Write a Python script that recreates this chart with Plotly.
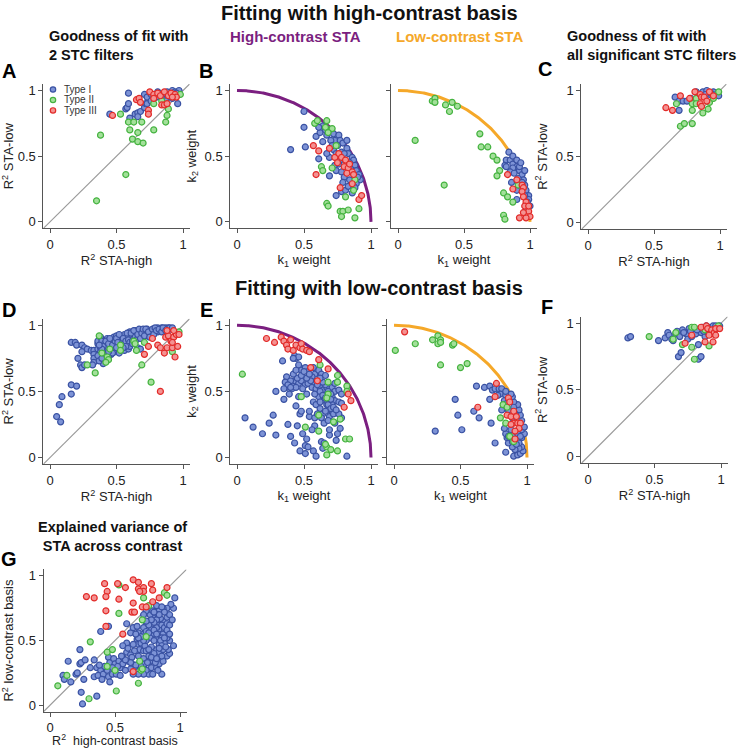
import numpy as np
import plotly.graph_objects as go

OFF = 0
W, H = 739, 748

# ---------------- DATA ----------------
# Panel A: Goodness of fit with 2 STC filters (x = R2 STA-high, y = R2 STA-low)
A_type1 = [(0.59,0.98),(0.45,0.82),(0.57,0.86),(0.58,0.87),(0.59,0.90),(0.60,0.79),(0.64,0.82),(0.66,0.83),
           (0.68,0.84),(0.66,0.80),(0.71,0.87),(0.72,0.90),(0.71,0.97),(0.73,0.95),(0.76,0.97),(0.78,0.94),
           (0.81,0.99),(0.84,0.96),(0.88,0.99),(0.92,1.0),(0.94,0.99),(0.97,1.0),(0.96,0.90),(0.89,0.95),
           (0.92,0.94),(0.87,0.92),(0.73,0.90),(0.76,0.92),(0.80,0.95),(0.86,0.98),(0.90,0.97),(0.95,0.98)]
A_type2 = [(0.38,0.66),(0.35,0.16),(0.57,0.36),(0.53,0.82),(0.59,0.76),(0.63,0.76),(0.69,0.76),(0.60,0.70),
           (0.66,0.68),(0.62,0.63),(0.66,0.61),(0.70,0.60),(0.78,0.70),(0.87,0.76),(0.88,0.81),(0.89,0.86),
           (0.78,0.90),(0.98,0.97),(0.84,0.92)]
A_type3 = [(0.47,0.81),(0.65,0.93),(0.67,0.94),(0.68,0.91),(0.74,0.85),(0.74,0.82),(0.75,0.99),(0.78,0.97),
           (0.81,0.98),(0.83,0.96),(0.86,0.99),(0.84,0.89),(0.86,0.89),(0.89,0.96),(0.91,0.98),(0.94,0.97),
           (0.95,0.95),(0.92,0.95),(0.88,0.90),(0.78,0.94)]

# Panel B: high-contrast basis weights (k1, k2), left = high-contrast STA, right = low-contrast STA
B1_type1 = [(0.50,0.84),(0.50,0.72),(0.40,0.55),(0.51,0.57),(0.61,0.48),(0.59,0.65),(0.62,0.68),(0.64,0.73),
            (0.69,0.35),(0.74,0.20),(0.78,0.23),(0.64,0.61),(0.67,0.66),(0.69,0.70),(0.72,0.67),(0.73,0.62),
            (0.76,0.66),(0.77,0.62),(0.79,0.60),(0.82,0.56),(0.83,0.52),(0.86,0.49),(0.87,0.47),(0.88,0.43),
            (0.89,0.39),(0.91,0.36),(0.92,0.32),(0.89,0.29),(0.87,0.27),(0.84,0.32),(0.81,0.24),(0.73,0.43),
            (0.69,0.49),(0.67,0.52),(0.72,0.55),(0.74,0.52),(0.77,0.47),(0.74,0.39),(0.78,0.38),(0.83,0.27),
            (0.88,0.26),(0.86,0.22),(0.82,0.62),(0.78,0.53),(0.70,0.62),(0.75,0.58),(0.80,0.52),(0.84,0.45),
            (0.85,0.40),(0.80,0.34),(0.76,0.44),(0.71,0.58),(0.66,0.70),(0.61,0.72),(0.90,0.34),(0.79,0.30)]
B1_type2 = [(0.58,0.75),(0.60,0.77),(0.66,0.72),(0.67,0.77),(0.71,0.71),(0.68,0.68),(0.74,0.58),(0.63,0.42),
            (0.64,0.39),(0.71,0.41),(0.67,0.14),(0.68,0.12),(0.77,0.08),(0.79,0.08),(0.78,0.04),(0.83,0.09),
            (0.88,0.03),(0.91,0.10),(0.81,0.19),(0.87,0.24),(0.88,0.32)]
B1_type3 = [(0.57,0.58),(0.61,0.54),(0.59,0.36),(0.69,0.56),(0.73,0.49),(0.76,0.52),(0.78,0.49),(0.81,0.47),
            (0.80,0.42),(0.83,0.41),(0.86,0.38),(0.82,0.37),(0.87,0.36),(0.86,0.29),(0.77,0.26),(0.91,0.17),
            (0.93,0.20),(0.75,0.45),(0.84,0.44)]
B2_type1 = [(0.84,0.53),(0.82,0.47),(0.81,0.43),(0.85,0.47),(0.87,0.44),(0.90,0.42),(0.92,0.39),(0.94,0.36),
            (0.95,0.32),(0.96,0.28),(0.97,0.24),(0.99,0.20),(0.99,0.17),(1.0,0.12),(0.97,0.09),(0.90,0.17),
            (0.87,0.41),(0.85,0.38),(0.82,0.42),(0.87,0.50),(0.90,0.47),(0.92,0.42),(0.90,0.24),(0.86,0.30),
            (0.96,0.39),(0.93,0.45),(0.88,0.37),(0.91,0.33),(0.94,0.30),(0.98,0.15),(0.96,0.20)]
B2_type2 = [(0.26,0.92),(0.28,0.94),(0.28,0.91),(0.36,0.89),(0.39,0.84),(0.41,0.91),(0.45,0.88),(0.13,0.62),
            (0.35,0.28),(0.62,0.67),(0.63,0.57),(0.68,0.57),(0.72,0.50),(0.75,0.47),(0.77,0.39),(0.75,0.35),
            (0.80,0.22),(0.83,0.19),(0.87,0.15),(0.80,0.05),(0.81,0.02),(0.91,0.28)]
B2_type3 = [(0.83,0.36),(0.90,0.32),(0.87,0.25),(0.94,0.28),(0.95,0.26),(0.94,0.23),(0.95,0.19),(0.97,0.15),
            (0.96,0.12),(0.99,0.08),(1.0,0.04),(0.97,0.03),(0.92,0.03),(0.95,0.07),(0.99,0.12)]

# Panel C: Goodness of fit with all significant STC filters
C_type1 = [(0.66,0.95),(0.69,0.92),(0.69,0.85),(0.72,0.92),(0.75,0.92),(0.78,0.94),(0.82,0.99),(0.87,0.99),
           (0.90,1.0),(0.92,0.97),(0.95,0.99),(0.97,0.97),(0.99,0.96),(0.84,0.96),(0.89,0.97),(0.93,0.98)]
C_type2 = [(0.67,0.90),(0.70,0.73),(0.73,0.75),(0.79,0.75),(0.79,0.85),(0.79,0.90),(0.82,0.94),(0.87,0.83),
           (0.91,0.86),(0.92,0.91),(0.95,0.94),(0.99,0.99),(0.82,0.90)]
C_type3 = [(0.59,0.87),(0.64,0.85),(0.70,0.96),(0.77,0.94),(0.81,0.99),(0.85,0.97),(0.86,0.95),(0.88,0.95),
           (0.85,0.90),(0.86,0.88),(0.92,0.99),(0.95,0.96),(0.90,0.92)]

# Panel D: low-contrast basis, goodness of fit with 2 STC filters
D_type1 = [(0.05,0.31),(0.08,0.27),(0.07,0.40),(0.09,0.46),(0.16,0.48),(0.16,0.55),(0.20,0.54),
           (0.16,0.87),(0.19,0.87),(0.20,0.85),(0.21,0.75),(0.23,0.70),(0.24,0.68),(0.26,0.70),(0.24,0.85),
           (0.26,0.83),(0.24,0.80),(0.28,0.82),(0.31,0.81),(0.33,0.81),(0.33,0.78),(0.33,0.75),(0.33,0.72),
           (0.32,0.70),(0.36,0.86),(0.36,0.88),(0.38,0.91),(0.40,0.71),(0.42,0.75),(0.43,0.78),(0.44,0.83),
           (0.46,0.88),(0.47,0.81),(0.48,0.91),(0.50,0.92),(0.49,0.86),(0.52,0.90),(0.54,0.88),(0.56,0.86),
           (0.57,0.91),(0.58,0.85),(0.60,0.95),(0.62,0.92),(0.64,0.96),(0.66,0.83),(0.68,0.82),(0.67,0.93),
           (0.69,0.96),(0.72,0.93),(0.73,0.97),(0.76,0.96),(0.78,0.97),(0.81,0.98),(0.83,0.96),(0.84,0.98),
           (0.87,0.98),(0.89,0.98),(0.91,0.97),(0.39,0.88),(0.41,0.86),(0.43,0.90),(0.46,0.86),(0.48,0.87),
           (0.51,0.85),(0.53,0.91),(0.56,0.93),(0.58,0.92),(0.61,0.90),(0.63,0.93),(0.66,0.95),(0.68,0.92),
           (0.71,0.95),(0.73,0.92),(0.76,0.93),(0.78,0.95),(0.81,0.95),(0.83,0.97),(0.86,0.96),(0.36,0.82),
           (0.38,0.83),(0.41,0.81),(0.43,0.83),(0.46,0.81),(0.48,0.82),(0.53,0.82),(0.56,0.81),(0.59,0.82),
           (0.38,0.80),(0.36,0.77),(0.41,0.77),(0.46,0.78),(0.49,0.80),(0.37,0.73),(0.39,0.75),(0.44,0.76),
           (0.40,0.84),(0.42,0.88),(0.44,0.86),(0.45,0.90),(0.47,0.85),(0.49,0.88),(0.50,0.90),(0.51,0.87),
           (0.52,0.93),(0.54,0.86),(0.55,0.90),(0.57,0.88),(0.58,0.94),(0.59,0.89),(0.60,0.87),(0.61,0.94),
           (0.62,0.88),(0.63,0.96),(0.64,0.91),(0.65,0.89),(0.66,0.93),(0.67,0.97),(0.68,0.90),(0.69,0.94),
           (0.70,0.97),(0.71,0.92),(0.72,0.97),(0.74,0.95),(0.75,0.91),(0.77,0.97),(0.78,0.93),(0.79,0.98),
           (0.80,0.96),(0.82,0.97),(0.84,0.95),(0.85,0.98),(0.87,0.96),(0.88,0.97),(0.90,0.98),(0.92,0.98),
           (0.60,0.84),(0.62,0.86),(0.57,0.84),(0.55,0.83),(0.52,0.79),(0.50,0.83),(0.47,0.79),(0.44,0.80),
           (0.39,0.82),(0.37,0.85)]
D_type2 = [(0.37,0.92),(0.28,0.70),(0.34,0.64),(0.39,0.79),(0.43,0.76),(0.44,0.74),(0.42,0.72),(0.53,0.85),
           (0.53,0.81),(0.63,0.88),(0.64,0.86),(0.65,0.81),(0.71,0.87),(0.69,0.70),(0.76,0.57),(0.92,0.80),
           (0.97,0.95),(0.45,0.82)]
D_type3 = [(0.77,0.90),(0.74,0.84),(0.71,0.78),(0.81,0.85),(0.83,0.83),(0.86,0.79),(0.88,0.83),(0.92,0.83),
           (0.94,0.76),(0.96,0.84),(0.83,0.50),(0.87,0.91),(0.89,0.92),(0.91,0.88),(0.93,0.91),(0.95,0.93),
           (0.97,0.93),(0.88,0.96),(0.93,0.96),(0.92,0.87)]

# Panel E: low-contrast basis weights (k1, k2)
E1_type1 = [(0.06,0.30),(0.12,0.23),(0.19,0.18),(0.24,0.26),(0.27,0.32),(0.29,0.17),(0.29,0.50),(0.34,0.73),
            (0.35,0.44),(0.38,0.25),(0.40,0.16),(0.43,0.11),(0.44,0.39),(0.45,0.24),(0.47,0.33),(0.47,0.05),
            (0.48,0.35),(0.51,0.09),(0.51,0.03),(0.52,0.14),(0.54,0.31),(0.57,0.05),(0.58,0.24),(0.59,0.01),
            (0.63,0.12),(0.65,0.11),(0.69,0.17),(0.74,0.13),(0.75,0.18),(0.82,0.01),
            (0.43,0.77),(0.44,0.75),(0.46,0.76),(0.42,0.75),(0.47,0.68),(0.48,0.66),(0.51,0.68),(0.53,0.65),
            (0.57,0.68),(0.58,0.63),(0.61,0.66),(0.63,0.63),(0.66,0.62),(0.37,0.61),(0.36,0.57),(0.37,0.53),
            (0.41,0.56),(0.43,0.58),(0.46,0.56),(0.48,0.58),(0.51,0.55),(0.53,0.56),(0.56,0.53),(0.41,0.52),
            (0.44,0.53),(0.56,0.61),(0.58,0.57),(0.59,0.52),(0.62,0.53),(0.64,0.51),(0.67,0.53),(0.71,0.53),
            (0.73,0.50),(0.76,0.51),(0.78,0.48),(0.71,0.46),(0.73,0.43),(0.76,0.42),(0.78,0.41),(0.71,0.40),
            (0.68,0.36),(0.69,0.31),(0.72,0.33),(0.67,0.40),(0.63,0.43),(0.61,0.46),(0.58,0.48),(0.57,0.42),
            (0.59,0.40),(0.62,0.37),(0.64,0.33),(0.63,0.30),(0.65,0.26),(0.58,0.30),(0.54,0.35),(0.56,0.21),
            (0.49,0.18),(0.53,0.08),(0.64,0.07),(0.69,0.21),(0.73,0.26),(0.77,0.22),(0.78,0.30),(0.76,0.33),
            (0.73,0.56),(0.52,0.48),(0.49,0.52),(0.39,0.48),(0.46,0.46),(0.60,0.33),
            (0.62,0.50),(0.64,0.47),(0.66,0.45),(0.68,0.50),(0.70,0.48),(0.66,0.55),(0.64,0.57),(0.60,0.55),
            (0.62,0.60),(0.68,0.40),(0.70,0.37),(0.66,0.35),(0.68,0.28),(0.72,0.38),(0.74,0.36),(0.70,0.44),
            (0.62,0.42),(0.55,0.58),(0.52,0.60),(0.45,0.60),(0.40,0.58),(0.38,0.55),(0.42,0.63),(0.48,0.62),
            (0.50,0.65),(0.54,0.63),(0.46,0.70),(0.44,0.66),(0.40,0.53),(0.35,0.52)]
E1_type2 = [(0.04,0.63),(0.48,0.46),(0.62,0.70),(0.75,0.62),(0.68,0.57),(0.75,0.57),(0.68,0.48),(0.67,0.45),
            (0.82,0.54),(0.82,0.50),(0.61,0.32),(0.51,0.23),(0.61,0.20),(0.72,0.27),(0.77,0.29),(0.81,0.14),
            (0.84,0.14),(0.67,0.08),(0.70,0.06),(0.67,0.02),(0.75,0.05),(0.66,0.10)]
E1_type3 = [(0.22,0.90),(0.28,0.87),(0.33,0.91),(0.35,0.88),(0.37,0.85),(0.38,0.82),(0.40,0.89),(0.42,0.81),
            (0.44,0.85),(0.47,0.83),(0.48,0.86),(0.49,0.82),(0.52,0.81),(0.54,0.80),(0.61,0.74),(0.55,0.68),
            (0.68,0.67),(0.60,0.58),(0.83,0.48),(0.85,0.43),(0.80,0.38)]
E2_type1 = [(0.62,0.54),(0.68,0.53),(0.72,0.54),(0.74,0.51),(0.76,0.52),(0.79,0.52),(0.81,0.52),(0.80,0.48),
            (0.78,0.47),(0.72,0.44),(0.46,0.44),(0.60,0.35),(0.48,0.32),(0.64,0.30),(0.73,0.26),(0.51,0.21),
            (0.31,0.20),(0.76,0.11),(0.84,0.04),(0.90,0.01),(0.93,0.02),(0.95,0.03),(0.97,0.05),(0.96,0.08),
            (0.94,0.07),(0.91,0.06),(0.89,0.08),(0.86,0.11),(0.85,0.15),(0.84,0.18),(0.83,0.22),(0.86,0.16),
            (0.94,0.11),(0.96,0.15),(0.98,0.18),(0.96,0.21),(0.98,0.23),(0.96,0.28),(0.95,0.32),(0.94,0.36),
            (0.93,0.40),(0.90,0.42),(0.89,0.46),(0.88,0.48),(0.84,0.47),(0.83,0.43),(0.84,0.50),(0.90,0.38),
            (0.91,0.33),(0.89,0.30),(0.88,0.21),(0.90,0.17),(0.93,0.18),(0.95,0.16),(0.89,0.12),(0.92,0.10),
            (0.85,0.41),(0.81,0.36),(0.86,0.36)]
E2_type2 = [(0.01,0.81),(0.16,0.86),(0.29,0.89),(0.33,0.92),(0.35,0.89),(0.33,0.86),(0.35,0.87),(0.44,0.85),
            (0.45,0.86),(0.35,0.70),(0.50,0.68),(0.55,0.71),(0.80,0.30),(0.82,0.40),(0.85,0.38),(0.84,0.26),
            (0.87,0.16),(0.90,0.12)]
E2_type3 = [(0.08,0.95),(0.77,0.56),(0.76,0.46),(0.63,0.38),(0.86,0.45),(0.87,0.42),(0.85,0.32),(0.88,0.31),
            (0.90,0.35),(0.92,0.31),(0.90,0.26),(0.93,0.26),(0.95,0.26),(0.94,0.22),(0.91,0.20),(0.91,0.14),
            (0.88,0.25)]

# Panel F: low-contrast basis, all significant STC filters
F_type1 = [(0.30,0.89),(0.32,0.90),(0.53,0.87),(0.58,0.89),(0.60,0.93),(0.61,0.91),(0.63,0.88),(0.66,0.92),
           (0.68,0.75),(0.70,0.78),(0.71,0.95),(0.74,0.92),(0.76,0.96),(0.79,0.93),(0.81,0.92),(0.83,0.84),
           (0.84,0.96),(0.86,0.97),(0.85,0.93),(0.89,0.98),(0.91,0.97),(0.94,0.98),(0.96,0.98),(0.99,0.98),
           (0.83,0.73),(0.85,0.75),(0.64,0.87),(0.69,0.90),(0.75,0.88),(0.78,0.90),(0.88,0.90),(0.90,0.93),
           (0.72,0.93),(0.77,0.94),(0.82,0.95),(0.87,0.94),(0.67,0.94)]
F_type2 = [(0.46,0.90),(0.66,0.93),(0.64,0.88),(0.71,0.84),(0.78,0.97),(0.80,0.97),(0.78,0.82),(0.80,0.73),
           (0.88,0.95),(0.91,0.83),(0.98,0.98)]
F_type3 = [(0.73,0.85),(0.78,0.91),(0.85,0.97),(0.88,0.86),(0.89,0.98),(0.90,0.96),(0.93,0.95),(0.94,0.92),
           (0.95,0.93),(0.96,0.96),(0.99,0.96),(0.94,0.86),(0.96,0.91),(0.91,0.91)]

# Panel G: explained variance of STA across contrast
G_type1 = [(0.14,0.34),(0.23,0.43),(0.23,0.32),(0.24,0.33),(0.27,0.35),(0.34,0.35),(0.10,0.23),(0.11,0.20),
           (0.16,0.18),(0.20,0.24),(0.21,0.25),(0.26,0.20),(0.24,0.10),(0.36,0.07),(0.25,0.01),(0.31,0.29),
           (0.34,0.22),(0.36,0.29),(0.39,0.27),(0.37,0.23),(0.41,0.24),(0.40,0.20),(0.45,0.22),(0.46,0.18),
           (0.48,0.24),(0.45,0.37),(0.46,0.33),(0.49,0.36),(0.50,0.32),(0.53,0.34),(0.54,0.29),(0.56,0.32),
           (0.56,0.37),(0.59,0.41),(0.60,0.34),(0.63,0.32),(0.65,0.29),(0.62,0.28),(0.58,0.27),(0.51,0.24),
           (0.54,0.23),(0.39,0.57),(0.45,0.61),(0.59,0.63),(0.62,0.56),(0.64,0.60),(0.67,0.61),(0.68,0.56),
           (0.67,0.51),(0.68,0.47),(0.69,0.43),(0.72,0.42),(0.70,0.48),(0.73,0.46),(0.74,0.42),(0.76,0.38),
           (0.77,0.34),(0.78,0.29),(0.76,0.24),(0.79,0.24),(0.86,0.24),(0.82,0.29),(0.84,0.32),(0.87,0.34),
           (0.90,0.38),(0.92,0.40),(0.91,0.43),(0.95,0.46),(0.92,0.50),(0.90,0.52),(0.87,0.55),(0.84,0.59),
           (0.83,0.62),(0.87,0.65),(0.90,0.68),(0.92,0.70),(0.95,0.75),(0.96,0.83),(0.93,0.78),(0.90,0.75),
           (0.87,0.75),(0.84,0.73),(0.82,0.70),(0.79,0.68),(0.77,0.65),(0.74,0.62),(0.72,0.60),(0.77,0.70),
           (0.79,0.73),(0.82,0.77),(0.74,0.73),(0.72,0.70),(0.82,0.60),(0.79,0.55),(0.77,0.52),(0.82,0.51),
           (0.84,0.47),(0.82,0.43),(0.79,0.39),(0.84,0.41),(0.87,0.43),(0.88,0.48),(0.86,0.52),(0.81,0.33),
           (0.83,0.27),(0.72,0.55),(0.74,0.57),(0.78,0.59),(0.64,0.47),(0.65,0.42),(0.62,0.39),(0.59,0.48),
           (0.56,0.46),(0.60,0.44),(0.63,0.37),(0.68,0.38),(0.72,0.36),(0.73,0.32),(0.74,0.27),(0.72,0.24),
           (0.68,0.24),(0.64,0.24),(0.80,0.50),(0.78,0.45),(0.76,0.43),(0.74,0.50),(0.72,0.50),(0.70,0.53),
           (0.68,0.52),(0.66,0.55),(0.76,0.56),(0.80,0.58),(0.82,0.55),(0.85,0.50),(0.88,0.52),(0.86,0.46),
           (0.84,0.44),(0.80,0.40),(0.78,0.37),(0.75,0.33),(0.70,0.30),(0.66,0.31),(0.62,0.33),(0.58,0.35),
           (0.55,0.38),(0.52,0.30),(0.48,0.29),(0.44,0.27),(0.42,0.30),(0.38,0.31),(0.86,0.62),(0.88,0.60),
           (0.90,0.63),(0.85,0.67),(0.82,0.66),(0.80,0.64),(0.78,0.66),(0.76,0.62),(0.74,0.65),(0.88,0.72),
           (0.86,0.76),(0.84,0.70),(0.80,0.72),(0.90,0.58),(0.92,0.55),(0.89,0.45),(0.86,0.38),(0.82,0.36),
           (0.92,0.62),(0.94,0.66)]
G_type2 = [(0.53,0.93),(0.88,0.87),(0.90,0.85),(0.72,0.83),(0.76,0.77),(0.53,0.71),(0.71,0.66),(0.74,0.53),
           (0.31,0.49),(0.44,0.41),(0.48,0.43),(0.44,0.30),(0.50,0.27),(0.69,0.34),(0.70,0.27),(0.71,0.28),
           (0.13,0.23),(0.06,0.15),(0.30,0.05),(0.51,0.11),(0.68,0.17)]
G_type3 = [(0.42,0.94),(0.52,0.94),(0.64,0.97),(0.68,0.95),(0.78,0.94),(0.90,0.91),(0.44,0.88),(0.58,0.91),
           (0.68,0.90),(0.72,0.91),(0.72,0.88),(0.69,0.88),(0.79,0.89),(0.28,0.84),(0.34,0.83),(0.43,0.84),
           (0.53,0.82),(0.64,0.79),(0.79,0.80),(0.84,0.83),(0.43,0.73),(0.63,0.72),(0.65,0.72),(0.71,0.76),
           (0.74,0.76),(0.43,0.61),(0.56,0.55),(0.64,0.26)]

TYPE_NAMES = ["Type I", "Type II", "Type III"]
TICK_VALS = [0, 0.5, 1]
TICK_TEXT = ["0", "0.5", "1"]

# ---------------- STYLE ----------------
FILL = ["#7d93d6", "#a3e09a", "#f49292"]
EDGE = ["#3a52a3", "#45b340", "#e22b29"]
PURPLE = "#7b1f80"
ORANGE = "#f5a829"
AX = "#555555"
FONT = "Liberation Sans, Arial, sans-serif"

# screen-pixel positions of data 0 and data 1 on each panel (x0, x1, y0, y1)
panels = {
    "A":  (50, 183, 222, 90),
    "B1": (237, 371, 222, 90),
    "B2": (398, 530, 222, 90),
    "C":  (588, 720, 223, 90),
    "D":  (50, 183, 459, 326),
    "E1": (237, 371, 459, 326),
    "E2": (394, 527, 459, 326),
    "F":  (588, 721, 458, 324),
    "G":  (50, 180, 708, 578),
}

def xdom(p0, p1):
    s = p1 - p0
    return [(p0 - 0.05 * s - OFF) / W, (p1 + 0.05 * s - OFF) / W]

def ydom(p0, p1):
    s = p0 - p1
    return [1 - (p0 + 0.05 * s - OFF) / H, 1 - (p1 - 0.05 * s - OFF) / H]

def px(x, y):
    return (x - OFF) / W, 1 - (y - OFF) / H

fig = go.Figure()
layout = dict(width=W, height=H, margin=dict(l=0, r=0, t=0, b=0),
              paper_bgcolor="white", plot_bgcolor="white",
              font=dict(family=FONT, size=12, color="#222"), showlegend=False)

order = ["A", "B1", "B2", "C", "D", "E1", "E2", "F", "G"]
xtitles = {"A": "R<sup>2</sup> STA-high", "B1": "k<sub>1</sub> weight", "B2": "k<sub>1</sub> weight",
           "C": "R<sup>2</sup> STA-high", "D": "R<sup>2</sup> STA-high", "E1": "k<sub>1</sub> weight",
           "E2": "k<sub>1</sub> weight", "F": "R<sup>2</sup> STA-high", "G": "R<sup>2</sup>  high-contrast basis"}
ytitles = {"A": "R<sup>2</sup> STA-low", "B1": "k<sub>2</sub> weight",
           "C": "R<sup>2</sup> STA-low", "D": "R<sup>2</sup> STA-low", "E1": "k<sub>2</sub> weight",
           "F": "R<sup>2</sup> STA-low", "G": "R<sup>2</sup> low-contrast basis"}
data = {"A": (A_type1, A_type2, A_type3), "B1": (B1_type1, B1_type2, B1_type3),
        "B2": (B2_type1, B2_type2, B2_type3), "C": (C_type1, C_type2, C_type3),
        "D": (D_type1, D_type2, D_type3), "E1": (E1_type1, E1_type2, E1_type3),
        "E2": (E2_type1, E2_type2, E2_type3), "F": (F_type1, F_type2, F_type3),
        "G": (G_type1, G_type2, G_type3)}

theta = np.linspace(0, np.pi / 2, 200)
for i, key in enumerate(order):
    n = "" if i == 0 else str(i + 1)
    xa, ya = "x" + n, "y" + n
    x0, x1, y0, y1 = panels[key]
    common = dict(range=[-0.05, 1.05], showgrid=False, zeroline=False, showline=True,
                  linecolor=AX, linewidth=1, ticks="outside", ticklen=4, tickcolor=AX,
                  tickvals=TICK_VALS, ticktext=TICK_TEXT, tickfont=dict(size=13, color="#222"),
                  fixedrange=True)
    xfs = 12.5 if key == "G" else 13
    xst = 4 if key == "G" else 2
    layout["xaxis" + n] = dict(common, domain=xdom(x0, x1), anchor=ya,
                               title=dict(text=xtitles[key], font=dict(size=xfs, color="#222"), standoff=xst))
    yax = dict(common, domain=ydom(y0, y1), anchor=xa, showticklabels=key not in ("B2", "E2"))
    if key in ytitles:
        yax["title"] = dict(text=ytitles[key], font=dict(size=13, color="#222"), standoff=5)
    layout["yaxis" + n] = yax
    if key in ("B1", "E1", "B2", "E2"):
        col = PURPLE if key in ("B1", "E1") else ORANGE
        fig.add_trace(go.Scatter(x=np.cos(theta), y=np.sin(theta), mode="lines", xaxis=xa, yaxis=ya,
                                 line=dict(color=col, width=3), hoverinfo="skip"))
    else:
        fig.add_trace(go.Scatter(x=[-0.05, 1.05], y=[-0.05, 1.05], mode="lines", xaxis=xa, yaxis=ya,
                                 line=dict(color="#999999", width=1.2), hoverinfo="skip"))
    for t in range(3):
        pts = data[key][t]
        fig.add_trace(go.Scatter(
            x=[p[0] for p in pts], y=[p[1] for p in pts], mode="markers", xaxis=xa, yaxis=ya,
            name=TYPE_NAMES[t],
            marker=dict(size=6, color=FILL[t], line=dict(color=EDGE[t], width=1.2))))

annots = []
shapes = []
def txt(x, y, s, size, color="#111", bold=True, xanchor="center", align="center"):
    ax, ay = px(x, y)
    annots.append(dict(x=ax, y=ay, xref="paper", yref="paper", text=("<b>%s</b>" % s) if bold else s,
                       showarrow=False, xanchor=xanchor, yanchor="middle", align=align,
                       font=dict(size=size, color=color, family=FONT)))

# legend inside panel A
for t, yy in enumerate([89, 99.5, 110]):
    r = 2.7
    ax0, ay0 = px(53 - r, yy + r)
    ax1, ay1 = px(53 + r, yy - r)
    shapes.append(dict(type="circle", xref="paper", yref="paper", x0=ax0, y0=ay0, x1=ax1, y1=ay1,
                       fillcolor=FILL[t], line=dict(color=EDGE[t], width=1.2)))
    txt(62, yy, TYPE_NAMES[t], 10, "#333", bold=False, xanchor="left", align="left")

txt(369, 12, "Fitting with high-contrast basis", 20)
txt(379, 289, "Fitting with low-contrast basis", 20)
txt(295, 36, "High-contrast STA", 15, PURPLE)
txt(459, 36, "Low-contrast STA", 15, ORANGE)
txt(47, 45, "Goodness of fit with<br>2 STC filters", 14.5, xanchor="left", align="left")
txt(565, 45, "Goodness of fit with<br>all significant STC filters", 14.5, xanchor="left", align="left")
txt(112, 538, "Explained variance of<br>STA across contrast", 14.5)
for L, (x, y) in {"A": (9, 70), "B": (206, 70), "C": (545, 68), "D": (9, 311), "E": (206, 311),
                  "F": (547, 308), "G": (9, 561)}.items():
    txt(x, y, L, 20, "#000")
layout["annotations"] = annots
layout["shapes"] = shapes

fig.update_layout(**layout)
# remove the default 8px body margin so the figure sits at the window's top-left corner
fig.write_html("out.html", config={"displayModeBar": False},
               post_script="document.body.style.margin='0';")
